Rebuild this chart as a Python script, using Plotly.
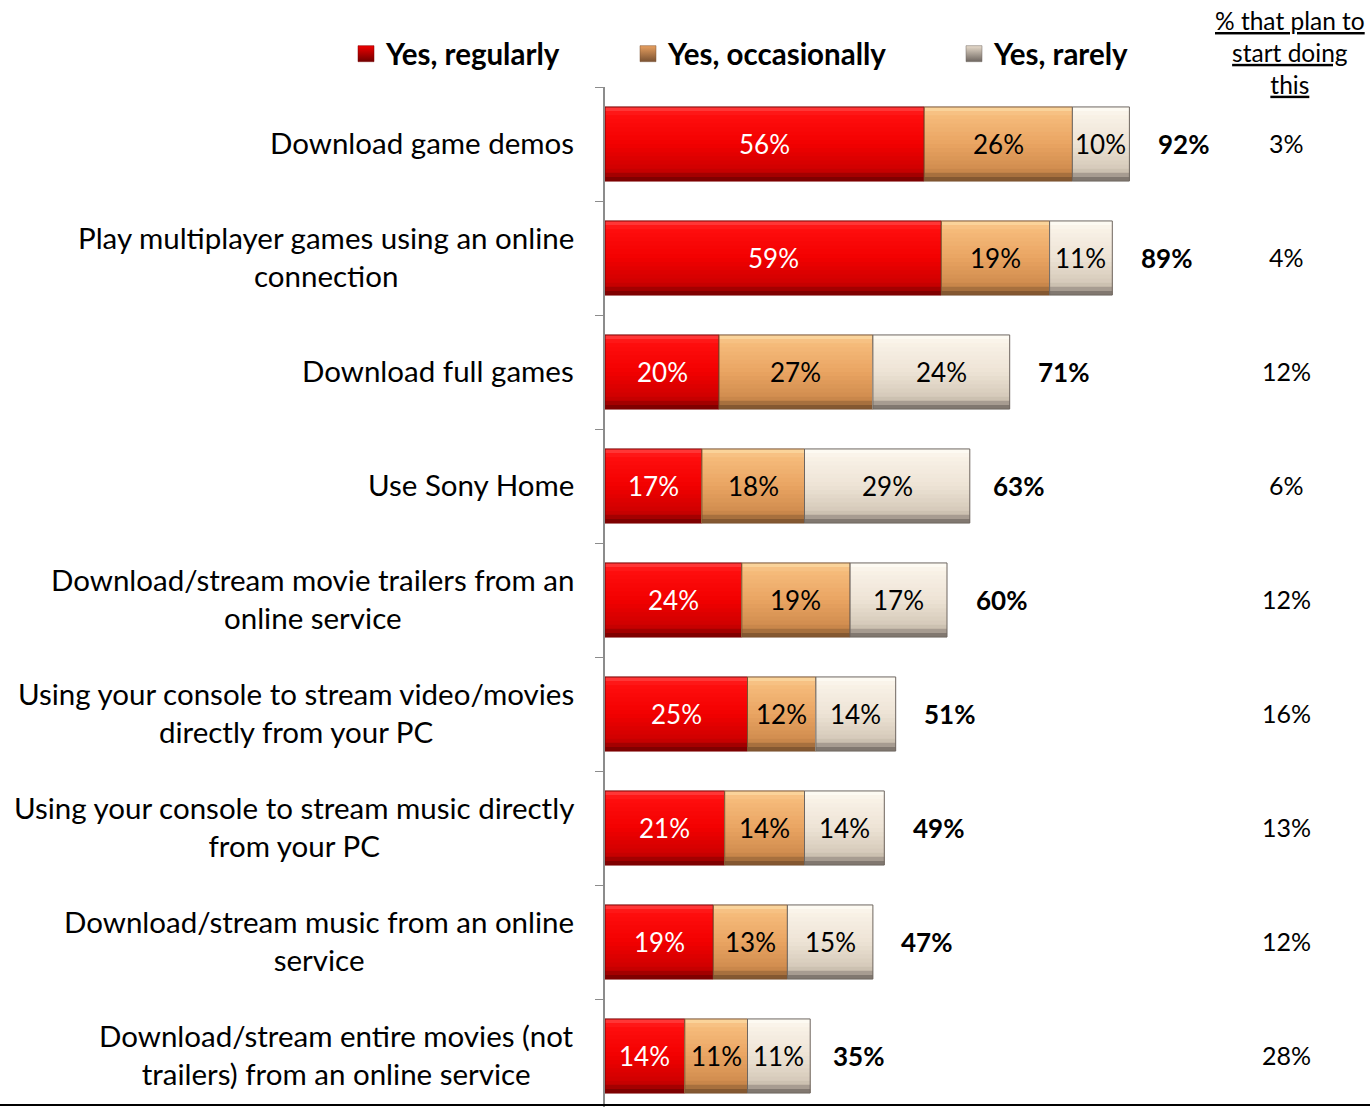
import plotly.graph_objects as go

# Survey data: share of console owners doing each activity
categories = [
    "Download game demos",
    "Play multiplayer games using an online<br>connection",
    "Download full games",
    "Use Sony Home",
    "Download/stream movie trailers from an<br>online service",
    "Using your console to stream video/movies<br>directly from your PC",
    "Using your console to stream music directly<br>from your PC",
    "Download/stream music from an online<br>service",
    "Download/stream entire movies (not<br>trailers) from an online service",
]
regularly = [56, 59, 20, 17, 24, 25, 21, 19, 14]
occasionally = [26, 19, 27, 18, 19, 12, 14, 13, 11]
rarely = [10, 11, 24, 29, 17, 14, 14, 15, 11]
totals = [92, 89, 71, 63, 60, 51, 49, 47, 35]
plan_to_start = ["3%", "4%", "12%", "6%", "12%", "16%", "13%", "12%", "28%"]

series_names = ["Yes, regularly", "Yes, occasionally", "Yes, rarely"]

FONT = "Lato"

# vertical gradient stops (top -> bottom) for the bevelled bars
gradients = [
    [(0.0, (255, 70, 70)), (0.1, (255, 14, 14)), (0.5, (242, 0, 0)), (0.85, (205, 0, 0)), (1.0, (110, 0, 0))],
    [(0.0, (252, 220, 166)), (0.1, (246, 188, 124)), (0.5, (233, 164, 98)), (0.85, (208, 140, 78)), (1.0, (115, 76, 42))],
    [(0.0, (255, 253, 246)), (0.1, (249, 242, 231)), (0.5, (237, 227, 213)), (0.85, (212, 200, 184)), (1.0, (110, 102, 96))],
]
outline = ["#7a0000", "#7a5232", "#6e6660"]
legend_color = ["#f00000", "#e8a060", "#e8dccc"]
legend_dark = ["#700000", "#7a5232", "#6e6660"]
text_color = ["white", "black", "black"]


def interp(stops, t):
    for (t0, c0), (t1, c1) in zip(stops, stops[1:]):
        if t0 <= t <= t1:
            f = 0 if t1 == t0 else (t - t0) / (t1 - t0)
            return "rgb(%d,%d,%d)" % tuple(round(a + (b - a) * f) for a, b in zip(c0, c1))
    return "rgb(%d,%d,%d)" % stops[-1][1]


BAR_W = 0.65
N_BANDS = 18
band_w = BAR_W / N_BANDS

fig = go.Figure()

values = [regularly, occasionally, rarely]
bases = [
    [0] * len(categories),
    regularly,
    [a + b for a, b in zip(regularly, occasionally)],
]
legends = ["legend", "legend2", "legend3"]

for s in range(3):
    # gradient: each layer runs from its band down to the bar bottom,
    # so successive layers cover the lower part without seams
    for i in range(N_BANDS):
        t = (i + 0.5) / N_BANDS
        fig.add_trace(go.Bar(
            y=categories, x=values[s], base=bases[s], orientation="h",
            width=BAR_W - i * band_w, offset=-BAR_W / 2 + i * band_w,
            marker=dict(color=interp(gradients[s], t), line=dict(width=0)),
            showlegend=False, hoverinfo="skip",
        ))
    # outline of each segment
    fig.add_trace(go.Bar(
        y=categories, x=values[s], base=bases[s], orientation="h",
        width=BAR_W, name=series_names[s],
        marker=dict(color="rgba(0,0,0,0)", line=dict(color=outline[s], width=1)),
        showlegend=False, hoverinfo="skip",
    ))
    # legend entry with a shaded square swatch
    fig.add_trace(go.Scatter(
        y=[None], x=[None], mode="markers", name=series_names[s],
        marker=dict(symbol="square", size=17, color=legend_color[s],
                    gradient=dict(type="vertical", color=legend_dark[s]),
                    line=dict(color=outline[s], width=0.5)),
        legend=legends[s], showlegend=True,
    ))
    # segment labels
    for cat, b, v in zip(categories, bases[s], values[s]):
        fig.add_annotation(
            x=b + v / 2, y=cat, xref="x", yref="y", text=f"{v}%",
            showarrow=False, xanchor="center",
            font=dict(family=FONT, size=26, color=text_color[s]),
        )

PL, PW = 605, 570
PT, PH = 87, 1020


def py(px):
    return 1 + (PT - px) / PH


# category labels, centred line by line
for cat in categories:
    fig.add_annotation(
        x=(576 - PL) / PW, y=cat, xref="paper", yref="y", text=cat,
        showarrow=False, xanchor="right", align="center", yshift=2,
        font=dict(family=FONT, size=29.5, color="black"),
    )

# totals to the right of each bar
for cat, tot in zip(categories, totals):
    fig.add_annotation(
        x=tot, y=cat, xref="x", yref="y", text=f"<b>{tot}%</b>",
        showarrow=False, xanchor="center", xshift=54,
        font=dict(family=FONT, size=26, color="black"),
    )

# "plan to start" column
for cat, p in zip(categories, plan_to_start):
    fig.add_annotation(
        x=(1286 - PL) / PW, y=cat, xref="paper", yref="y", text=p,
        showarrow=False, xanchor="center", yshift=1,
        font=dict(family=FONT, size=25, color="black"),
    )

fig.add_annotation(
    x=(1290 - PL) / PW, y=py(4), xref="paper", yref="paper",
    text="<u>% that plan to</u><br><u>start doing</u><br><u>this</u>",
    showarrow=False, xanchor="center", yanchor="top", align="center",
    font=dict(family=FONT, size=24.5, color="black"),
)

# bottom rule across the full width
fig.add_shape(
    type="line", xref="paper", yref="paper",
    x0=-PL / PW, x1=(1370 - PL) / PW, y0=py(1105), y1=py(1105),
    line=dict(color="black", width=2),
)

legend_style = dict(
    orientation="h", yanchor="middle", xanchor="left",
    font=dict(family=FONT, size=29.5, color="black", weight="bold"),
    bgcolor="rgba(0,0,0,0)", itemwidth=30, itemsizing="trace",
)

fig.update_layout(
    width=1370, height=1107,
    margin=dict(l=PL, r=1370 - PL - PW, t=PT, b=0),
    paper_bgcolor="white", plot_bgcolor="white",
    barmode="overlay",
    font=dict(family=FONT, color="black"),
    legend=dict(x=(346 - PL) / PW, y=py(54), **legend_style),
    legend2=dict(x=(628 - PL) / PW, y=py(54), **legend_style),
    legend3=dict(x=(954 - PL) / PW, y=py(54), **legend_style),
    xaxis=dict(range=[0, 100], showgrid=False, zeroline=False,
               showticklabels=False, showline=False, fixedrange=True),
    yaxis=dict(
        type="category", categoryorder="array", categoryarray=categories,
        range=[-0.5 + PH / 114, -0.5],
        showgrid=False, zeroline=False, showticklabels=False,
        showline=True, linecolor="#8c8c8c", linewidth=1.5,
        ticks="outside", tickson="boundaries", ticklen=8, tickcolor="#8c8c8c",
    ),
    showlegend=True,
)

fig.write_html("out.html")
